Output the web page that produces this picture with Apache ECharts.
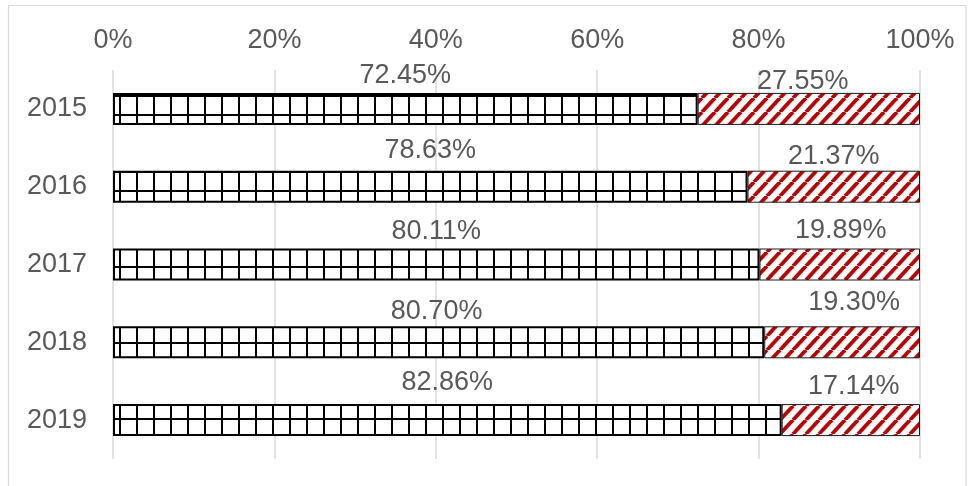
<!DOCTYPE html>
<html>
<head>
<meta charset="utf-8">
<script src="https://cdn.jsdelivr.net/npm/echarts@6/dist/echarts.min.js"></script>
<style>
  html, body { margin: 0; padding: 0; background: #ffffff; }
  #chart { width: 977px; height: 486px; }
</style>
</head>
<body>
<div id="chart"></div>
<script>
// Share of each year's total, in percent
const years = ['2015', '2016', '2017', '2018', '2019'];
const shareA = [72.45, 78.63, 80.11, 80.70, 82.86];
const shareB = [27.55, 21.37, 19.89, 19.30, 17.14];
const tickValues = [0, 20, 40, 60, 80, 100];

// Hand-placed label nudges [dx, dy] in pixels
const nudgeA = [[0, 0], [0, -3], [0, 1], [-2, 2.5], [0, -4.5]];
const nudgeB = [[-6, 6.5], [0, 3.5], [1, -0.5], [12, -6.5], [3, 0]];

// Small grid fill: white tile with black lines on two edges
function gridTile() {
  const c = document.createElement('canvas');
  c.width = 17; c.height = 19;
  const g = c.getContext('2d');
  g.fillStyle = '#ffffff';
  g.fillRect(0, 0, 17, 19);
  g.fillStyle = '#000000';
  g.fillRect(0, 0, 2, 19);
  g.fillRect(0, 0, 17, 2);
  return c;
}

// Upward diagonal stripe fill: red on white
function stripeTile() {
  const w = 13, h = 14;
  const c = document.createElement('canvas');
  c.width = w; c.height = h;
  const g = c.getContext('2d');
  g.fillStyle = '#ffffff';
  g.fillRect(0, 0, w, h);
  g.strokeStyle = '#c00000';
  g.lineWidth = 3.8;
  for (let k = -1; k <= 1; k++) {
    g.beginPath();
    g.moveTo(k * w, h);
    g.lineTo(k * w + w, 0);
    g.stroke();
  }
  return c;
}

const textColor = '#595959';
const fontFamily = '"Liberation Sans", Arial, sans-serif';

function labelled(values, nudges) {
  return values.map((v, i) => ({
    value: v,
    label: { offset: nudges[i] }
  }));
}

const chart = echarts.init(document.getElementById('chart'), null, { renderer: 'canvas' });

chart.setOption({
  animation: false,
  backgroundColor: '#ffffff',
  textStyle: { fontFamily: fontFamily },
  grid: { left: 113, right: 57, top: 70, bottom: 27, containLabel: false },
  xAxis: {
    type: 'value',
    position: 'top',
    min: tickValues[0],
    max: tickValues[tickValues.length - 1],
    interval: tickValues[1] - tickValues[0],
    axisLine: { show: false },
    axisTick: { show: false },
    axisLabel: {
      formatter: '{value}%',
      color: textColor,
      fontSize: 27,
      fontFamily: fontFamily,
      margin: 16
    },
    splitLine: { show: true, lineStyle: { color: '#d9d9d9', width: 1.5 } }
  },
  yAxis: {
    type: 'category',
    data: years,
    inverse: true,
    axisLine: { show: false },
    axisTick: { show: false },
    axisLabel: {
      color: textColor,
      fontSize: 27,
      fontFamily: fontFamily,
      margin: 26
    }
  },
  series: [
    {
      name: 'A',
      type: 'bar',
      stack: 'total',
      barWidth: 32,
      data: labelled(shareA, nudgeA),
      itemStyle: {
        color: { image: gridTile(), repeat: 'repeat' },
        borderColor: '#000000',
        borderWidth: 2
      },
      label: {
        show: true,
        position: 'top',
        distance: 4,
        color: textColor,
        fontSize: 27,
        fontFamily: fontFamily,
        formatter: p => p.value.toFixed(2) + '%'
      }
    },
    {
      name: 'B',
      type: 'bar',
      stack: 'total',
      barWidth: 32,
      data: labelled(shareB, nudgeB),
      itemStyle: {
        color: { image: stripeTile(), repeat: 'repeat' },
        borderColor: '#1a1a1a',
        borderWidth: 1
      },
      label: {
        show: true,
        position: 'top',
        distance: 4,
        color: textColor,
        fontSize: 27,
        fontFamily: fontFamily,
        formatter: p => p.value.toFixed(2) + '%'
      }
    }
  ],
  graphic: [
    {
      type: 'rect',
      silent: true,
      shape: { x: 8.5, y: 5.5, width: 957.5, height: 486 },
      style: { fill: 'none', stroke: '#d9d9d9', lineWidth: 1.2 }
    }
  ]
});
</script>
</body>
</html>
